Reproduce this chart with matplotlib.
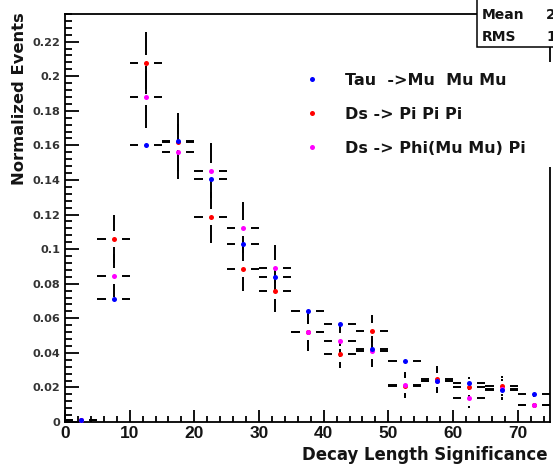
import matplotlib
matplotlib.use("Agg")
import matplotlib.pyplot as plt
from matplotlib.patches import Rectangle
from matplotlib.lines import Line2D
from matplotlib.ticker import MultipleLocator, FuncFormatter

# ---------------- data ----------------
bin_centers = [2.5, 7.5, 12.5, 17.5, 22.5, 27.5, 32.5, 37.5, 42.5, 47.5,
               52.5, 57.5, 62.5, 67.5, 72.5]
bin_half_width = 2.5

tau_mumumu = [0.001, 0.0713, 0.160, 0.1628, 0.1405, 0.1029, 0.0836, 0.0643,
              0.0568, 0.0424, 0.035, 0.0235, 0.0225, 0.0187, 0.0164]
tau_mumumu_err = [0.0005, 0.003, 0.004, 0.004, 0.004, 0.003, 0.003, 0.0025,
                  0.0025, 0.002, 0.002, 0.0015, 0.0015, 0.0015, 0.0013]

ds_pipipi = [0.001, 0.106, 0.2075, 0.162, 0.1185, 0.0886, 0.0759, 0.052,
             0.0395, 0.0524, 0.021, 0.025, 0.020, 0.0208, 0.0097]
ds_pipipi_err = [0.001, 0.014, 0.018, 0.017, 0.0147, 0.013, 0.012, 0.0105,
                 0.008, 0.0096, 0.006, 0.0075, 0.006, 0.006, 0.0045]

ds_phipi = [0.001, 0.0846, 0.188, 0.1564, 0.1453, 0.1125, 0.089, 0.052,
            0.0466, 0.0408, 0.0212, 0.024, 0.0139, 0.019, 0.010]
ds_phipi_err = [0.001, 0.0125, 0.018, 0.016, 0.016, 0.0145, 0.0135, 0.011,
                0.009, 0.009, 0.0075, 0.0075, 0.006, 0.006, 0.005]

labels = ["Tau  ->Mu  Mu Mu", "Ds -> Pi Pi Pi", "Ds -> Phi(Mu Mu) Pi"]
colors = ["#0000ff", "#ff0000", "#ff00ff"]

x_label = "Decay Length Significance"
y_label = "Normalized Events"
stats_names = ["Entries", "Mean", "RMS"]
stats_values = ["1000", "24.1", "15.3"]

TXT = "#141414"

# ---------------- figure ----------------
W, H = 553, 469
fig = plt.figure(figsize=(W / 100, H / 100), dpi=100)
L, R, T, B = 65, 550, 14, 422
ax = fig.add_axes([L / W, 1 - B / H, (R - L) / W, (B - T) / H])
xmax, ymax = 75, 0.236
ax.set_xlim(0, xmax)
ax.set_ylim(0, ymax)

def fx(px):
    return px / W

def fy(py):
    return 1 - py / H

gap_px = 8
gx = gap_px * xmax / (R - L)
gy = gap_px * ymax / (B - T)

series = [
    (ds_pipipi, ds_pipipi_err, colors[1]),
    (ds_phipi, ds_phipi_err, colors[2]),
    (tau_mumumu, tau_mumumu_err, colors[0]),
]

lw = 1.4
for vals, errs, col in series:
    for xc, yv, ev in zip(bin_centers, vals, errs):
        # horizontal error bar with a gap around the marker
        ax.hlines([yv, yv], [xc - bin_half_width, xc + gx],
                  [xc - gx, xc + bin_half_width], colors="black",
                  linewidth=lw, zorder=2, clip_on=False)
        if ev > gy:
            ax.vlines([xc, xc], [yv + gy, yv - ev], [yv + ev, yv - gy],
                      colors="black", linewidth=lw, zorder=2)
for vals, errs, col in series:
    ax.plot(bin_centers, vals, linestyle="none", marker="o", markersize=3.6,
            markerfacecolor=col, markeredgewidth=0, zorder=3)

# axes styling (ROOT-like)
for s in ax.spines.values():
    s.set_linewidth(1.3)
ax.xaxis.set_major_locator(MultipleLocator(10))
ax.xaxis.set_minor_locator(MultipleLocator(2))
ax.yaxis.set_major_locator(MultipleLocator(0.02))
ax.yaxis.set_minor_locator(MultipleLocator(0.004))
ax.tick_params(axis="y", which="major", direction="in", length=10, width=1.3,
               pad=3.5)
ax.tick_params(axis="y", which="minor", direction="in", length=5, width=1.3)
ax.tick_params(axis="x", which="major", direction="in", length=8.6, width=1.3,
               pad=3)
ax.tick_params(axis="x", which="minor", direction="in", length=4.6, width=1.3)
ax.yaxis.set_major_formatter(FuncFormatter(lambda v, p: "%g" % round(v, 4)))
ax.xaxis.set_major_formatter(FuncFormatter(lambda v, p: "%g" % v))
for lab in ax.get_yticklabels():
    lab.set_fontfamily("DejaVu Sans")
    lab.set_fontweight("bold")
    lab.set_fontsize(8.1)
    lab.set_color("#333333")
for lab in ax.get_xticklabels():
    lab.set_fontfamily("Liberation Sans")
    lab.set_fontweight("bold")
    lab.set_fontsize(12.5)
    lab.set_color(TXT)

fig.text(fx(548), fy(455), x_label, ha="right", va="center",
         fontsize=11.9, fontweight="bold", family="DejaVu Sans", color=TXT)
fig.text(fx(20), fy(12), y_label, ha="center", va="top", rotation=90,
         fontsize=11.8, fontweight="bold", family="DejaVu Sans", color=TXT)

# cover part of right frame behind the legend (as in reference)
fig.patches.append(Rectangle((fx(535), fy(167)), fx(25), fy(62) - fy(167),
                             transform=fig.transFigure, facecolor="white",
                             edgecolor="none", zorder=4))

# legend
handles = [Line2D([], [], linestyle="none", marker="o", markersize=3.6,
                  markerfacecolor=c, markeredgewidth=0) for c in colors]
leg = fig.legend(handles, labels, loc="upper left",
                 bbox_to_anchor=(fx(307), fy(73)), frameon=False,
                 prop={"family": "DejaVu Sans", "weight": "bold", "size": 11.5},
                 handlelength=0.6, handletextpad=1.78, labelspacing=1.19,
                 borderpad=0, borderaxespad=0)
for t in leg.get_texts():
    t.set_color(TXT)

# stats box (cut by the figure edge)
fig.patches.append(Rectangle((fx(477), fy(47)), fx(90), fy(-10) - fy(47),
                             transform=fig.transFigure, facecolor="white",
                             edgecolor="black", linewidth=1.1, zorder=6))
for i, (n, v) in enumerate(zip(stats_names, stats_values)):
    yy = -7 + i * 22
    fig.text(fx(482), fy(yy), n, ha="left", va="center", fontsize=10,
             fontweight="bold", family="DejaVu Sans", color=TXT, zorder=7)
    fig.text(fx(546), fy(yy), v, ha="left", va="center", fontsize=10,
             fontweight="bold", family="DejaVu Sans", color=TXT, zorder=7)

fig.savefig("out.png", dpi=100)
